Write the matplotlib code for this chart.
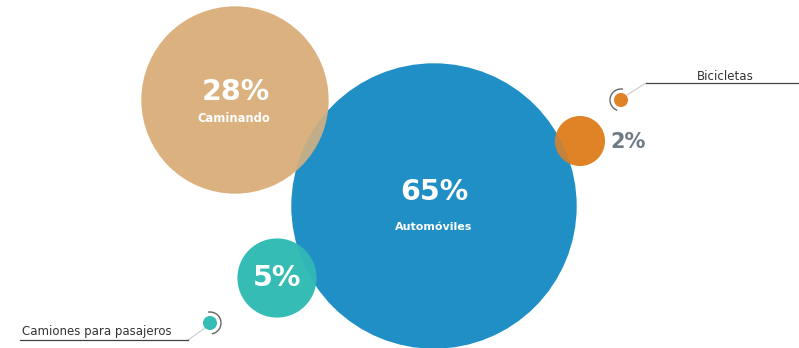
import numpy as np
import matplotlib
matplotlib.use("Agg")
import matplotlib.pyplot as plt
from matplotlib.patches import Circle, Arc

# Data
categories = ["Automóviles", "Caminando", "Camiones para pasajeros", "Bicicletas"]
values = [65, 28, 5, 2]
labels = ["65%", "28%", "5%", "2%"]
colors = ["#1f8fc6", "#dbb27f", "#35bdb5", "#e08226"]

# Layout (pixel coordinates of bubble centers)
centers = [(434, 206), (235, 100), (277, 278), (580, 141)]
scale = 17.7  # radius per sqrt(value)

W, H = 799, 348
fig = plt.figure(figsize=(W / 100, H / 100), dpi=100)
ax = fig.add_axes([0, 0, 1, 1])
ax.set_xlim(0, W)
ax.set_ylim(H, 0)
ax.set_aspect("equal")
ax.axis("off")

font = ["DejaVu Sans"]

circles = []
for i, (v, c, (cx, cy)) in enumerate(zip(values, colors, centers)):
    r = scale * np.sqrt(v)
    p = Circle((cx, cy), r, facecolor=c, edgecolor="none", zorder=2 + i)
    ax.add_patch(p)
    circles.append(p)

# Overlap tint: blue showing faintly through the smaller bubbles
for j in (1, 2, 3):
    cx, cy = centers[0]
    ov = Circle((cx, cy), scale * np.sqrt(values[0]), facecolor=colors[0],
                edgecolor="none", alpha=0.14, zorder=8)
    ax.add_patch(ov)
    ov.set_clip_path(circles[j])

# Labels inside bubbles
ax.text(centers[0][0], centers[0][1] - 14, labels[0], color="white", fontsize=20.5,
        fontweight="bold", ha="center", va="center", family=font, zorder=10)
ax.text(centers[0][0], centers[0][1] + 21, categories[0], color="white", fontsize=8,
        fontweight="bold", ha="center", va="center", family=font, zorder=10)
ax.text(centers[1][0] + 1, centers[1][1] - 8, labels[1], color="white", fontsize=20.5,
        fontweight="bold", ha="center", va="center", family=font, zorder=10)
ax.text(centers[1][0] - 1, centers[1][1] + 19, categories[1], color="white", fontsize=8.3,
        fontweight="bold", ha="center", va="center", family=font, zorder=10)
ax.text(centers[2][0], centers[2][1], labels[2], color="white", fontsize=20.5,
        fontweight="bold", ha="center", va="center", family=font, zorder=10)
ax.text(610, 142, labels[3], color="#6e7b85", fontsize=15,
        fontweight="bold", ha="left", va="center", family=font, zorder=10)

# Bicicletas callout
ax.add_patch(Circle((621, 100), 7, facecolor=colors[3], edgecolor="none", zorder=10))
ax.add_patch(Arc((621, 100), 22, 22, theta1=110, theta2=280, color="#666666", lw=1.0, zorder=10))
ax.plot([627, 646], [95, 83], color="#cccccc", lw=0.8, zorder=9)
ax.plot([646, 799], [83, 83], color="#444444", lw=0.9, zorder=9)
ax.text(725, 76, categories[3], color="#333333", fontsize=8.6, ha="center", va="center",
        family=font, zorder=10)

# Camiones callout
ax.add_patch(Circle((210, 323), 7, facecolor=colors[2], edgecolor="none", zorder=10))
ax.add_patch(Arc((210, 323), 22, 22, theta1=-100, theta2=80, color="#666666", lw=1.0, zorder=10))
ax.plot([205, 188], [328, 340], color="#cccccc", lw=0.8, zorder=9)
ax.plot([20, 188], [340, 340], color="#444444", lw=0.9, zorder=9)
ax.text(97, 332, categories[2], color="#333333", fontsize=8.5, ha="center", va="center",
        family=font, zorder=10)

fig.savefig("out.png", dpi=100)
